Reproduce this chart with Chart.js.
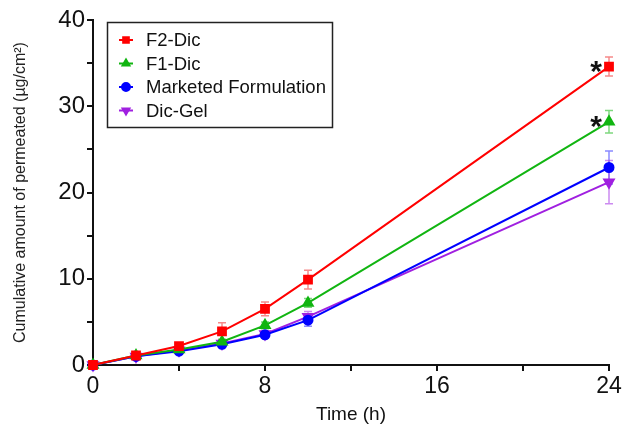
<!DOCTYPE html>
<html>
<head>
<meta charset="utf-8">
<script src="https://cdn.jsdelivr.net/npm/chart.js@4"></script>
<style>
  html, body { margin: 0; padding: 0; background: #fff; }
  #wrap { width: 624px; height: 433px; }
</style>
</head>
<body>
<div id="wrap"><canvas id="chart"></canvas></div>
<script>
// data
const timeH = [0, 2, 4, 6, 8, 10, 24];
const f2Dic = [0, 1.1, 2.2, 3.9, 6.5, 9.9, 34.6];
const f2DicErr = [0, 0.2, 0.2, 1.0, 0.8, 1.1, 1.1];
const f1Dic = [0, 1.1, 1.8, 2.7, 4.6, 7.2, 28.2];
const f1DicErr = [0, 0.1, 0.2, 0.3, 0.4, 0.5, 1.3];
const marketed = [0, 1.0, 1.6, 2.4, 3.5, 5.2, 22.9];
const marketedErr = [0, 0.1, 0.1, 0.2, 0.3, 0.7, 1.9];
const dicGel = [0, 1.0, 1.7, 2.5, 3.6, 5.6, 21.2];
const dicGelErr = [0, 0.1, 0.1, 0.2, 0.3, 0.6, 2.5];
const starredSeries = [0, 1]; // significance marks at 24 h
const xLabelTicks = [0, 8, 16, 24];
const yLabelTicks = [0, 10, 20, 30, 40];

const FONT = 'Arial, "Liberation Sans", sans-serif';

const mk = (label, ys, errs, color, errColor, style, rot) => ({
  label,
  data: ys.map((y, i) => ({ x: timeH[i], y })),
  errs,
  errColor,
  borderColor: color,
  backgroundColor: color,
  borderWidth: 2,
  pointStyle: style,
  pointRotation: rot || 0,
  pointRadius: style === 'circle' ? 4.5 : 5.5,
  pointHoverRadius: 5,
  tension: 0,
  clip: false,
});

const datasets = [
  mk('F2-Dic', f2Dic, f2DicErr, '#ff0000', 'rgba(240,60,60,0.6)', 'rect'),
  mk('F1-Dic', f1Dic, f1DicErr, '#11b511', 'rgba(40,190,40,0.6)', 'triangle'),
  mk('Marketed Formulation', marketed, marketedErr, '#0000ff', 'rgba(60,60,255,0.6)', 'circle'),
  mk('Dic-Gel', dicGel, dicGelErr, '#a020e0', 'rgba(170,60,230,0.6)', 'triangle', 180),
];

// error bars under the lines
const errorBars = {
  id: 'errorBars',
  beforeDatasetsDraw(chart) {
    const { ctx, scales: { x, y } } = chart;
    ctx.save();
    ctx.lineWidth = 1.5;
    chart.data.datasets.forEach(ds => {
      ctx.strokeStyle = ds.errColor;
      ds.data.forEach((p, i) => {
        const e = ds.errs[i];
        if (!e) return;
        const px = x.getPixelForValue(p.x);
        const top = y.getPixelForValue(p.y + e);
        const bot = y.getPixelForValue(p.y - e);
        ctx.beginPath();
        ctx.moveTo(px, top); ctx.lineTo(px, bot);
        ctx.moveTo(px - 4, top); ctx.lineTo(px + 4, top);
        ctx.moveTo(px - 4, bot); ctx.lineTo(px + 4, bot);
        ctx.stroke();
      });
    });
    ctx.restore();
  },
};

// asterisks + boxed legend
const extras = {
  id: 'extras',
  afterDraw(chart) {
    const { ctx, scales: { x, y } } = chart;
    ctx.save();
    ctx.fillStyle = '#111';
    ctx.font = 'bold 30px ' + FONT;
    ctx.textAlign = 'center';
    ctx.textBaseline = 'middle';
    starredSeries.forEach(k => {
      const d = chart.data.datasets[k].data;
      const last = d[d.length - 1];
      ctx.fillText('*', x.getPixelForValue(last.x) - 13, y.getPixelForValue(last.y) + 6);
    });

    // legend box
    const bx = 107.5, by = 22.5, bw = 225, bh = 105;
    ctx.strokeStyle = '#222';
    ctx.lineWidth = 1.5;
    ctx.strokeRect(bx, by, bw, bh);
    ctx.font = '18.5px ' + FONT;
    ctx.textAlign = 'left';
    chart.data.datasets.forEach((ds, i) => {
      const cy = 40 + i * 23.5;
      ctx.strokeStyle = ds.borderColor;
      ctx.lineWidth = 2;
      ctx.beginPath();
      ctx.moveTo(119, cy); ctx.lineTo(133, cy);
      ctx.stroke();
      ctx.fillStyle = ds.borderColor;
      Chart.helpers.drawPoint(ctx, {
        pointStyle: ds.pointStyle, rotation: ds.pointRotation, radius: 4, borderWidth: 1,
      }, 126, cy);
      ctx.fillStyle = '#111';
      ctx.fillText(ds.label, 146, cy + 1);
    });
    ctx.restore();
  },
};

new Chart(document.getElementById('chart'), {
  type: 'line',
  data: { datasets },
  options: {
    responsive: true,
    maintainAspectRatio: false,
    animation: false,
    layout: { padding: { left: 0, right: 15, top: 20, bottom: 0 } },
    plugins: { legend: { display: false }, tooltip: { enabled: false } },
    scales: {
      x: {
        type: 'linear',
        min: 0, max: 24,
        afterFit: s => { s.height = 68; },
        ticks: {
          stepSize: 4,
          autoSkip: false,
          maxRotation: 0,
          color: '#111',
          font: { family: FONT, size: 23 },
          padding: 2,
          callback: v => (xLabelTicks.includes(v) ? String(v) : ''),
        },
        grid: { drawOnChartArea: false, color: '#111', lineWidth: 2, tickLength: 6 },
        border: { color: '#111', width: 2 },
        title: {
          display: true,
          text: 'Time (h)',
          color: '#111',
          font: { family: FONT, size: 19 },
          padding: { top: 0, bottom: 7 },
        },
      },
      y: {
        min: 0, max: 40,
        afterFit: s => { s.width = 93; },
        ticks: {
          stepSize: 5,
          autoSkip: false,
          color: '#111',
          font: { family: FONT, size: 24 },
          padding: 2,
          callback: v => (yLabelTicks.includes(v) ? String(v) : ''),
        },
        grid: { drawOnChartArea: false, color: '#111', lineWidth: 2, tickLength: 6 },
        border: { color: '#111', width: 2 },
        title: {
          display: true,
          text: 'Cumulative amount of permeated (µg/cm²)',
          color: '#222',
          font: { family: FONT, size: 16 },
          padding: { top: 11, bottom: 0 },
        },
      },
    },
  },
  plugins: [errorBars, extras],
});
</script>
</body>
</html>
